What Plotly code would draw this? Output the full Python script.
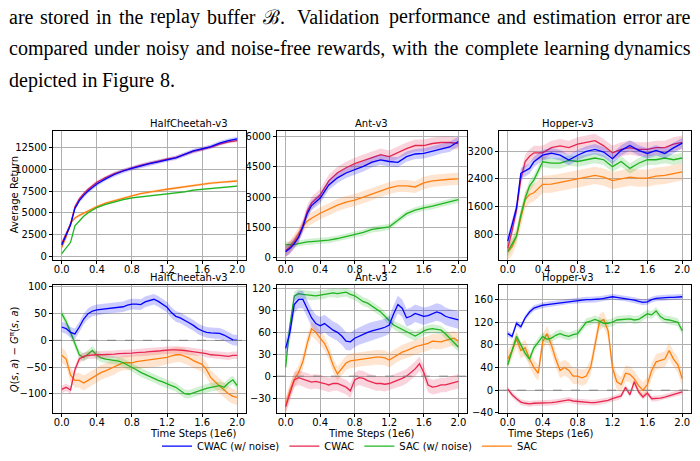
import plotly.graph_objects as go
from plotly.subplots import make_subplots

# ---- paper text above the figure (first two lines are justified) ----
text_lines = [
    "are stored in the replay buffer ℬ.  Validation performance and estimation error are",
    "compared under noisy and noise-free rewards, with the complete learning dynamics",
    "depicted in Figure 8.",
]
text_justified = [True, True, False]

methods = ["CWAC (w/ noise)", "CWAC", "SAC (w/ noise)", "SAC"]
envs = ["HalfCheetah-v3", "Ant-v3", "Hopper-v3"]

# ---- top row: average return (time steps in 1e6) ----
t_top = [0, 0.05, 0.1, 0.15, 0.2, 0.25, 0.3, 0.4, 0.5, 0.6, 0.7, 0.8,
         0.9, 1.0, 1.1, 1.2, 1.3, 1.4, 1.5, 1.6, 1.7, 1.8, 1.9, 2.0]

hc_ret_cwac_noise = [1300, 2500, 3600, 5500, 6400, 7000, 7500, 8300, 8900, 9400, 9800, 10100,
                     10400, 10650, 10850, 11100, 11300, 11700, 12100, 12350, 12600, 13000, 13300, 13500]
hc_ret_cwac = [1500, 2700, 3700, 5700, 6600, 7200, 7700, 8500, 9050, 9500, 9850, 10150,
               10450, 10700, 10900, 11150, 11350, 11700, 12050, 12300, 12550, 12900, 13150, 13300]
hc_ret_sac_noise = [300, 900, 1600, 3500, 4100, 4600, 5000, 5600, 5950, 6250, 6500, 6700,
                    6850, 6950, 7050, 7150, 7250, 7400, 7600, 7700, 7750, 7850, 7950, 8050]
hc_ret_sac = [1000, 2200, 3800, 4400, 4700, 4950, 5200, 5700, 6100, 6400, 6700, 6950,
              7200, 7400, 7550, 7700, 7850, 8000, 8150, 8300, 8400, 8500, 8600, 8650]
hc_ret_std = [250, 200, 100, 150]

ant_ret_cwac_noise = [300, 450, 700, 1000, 1530, 2180, 2580, 2950, 3600, 3950, 4190, 4350,
                      4520, 4730, 4840, 4760, 4720, 5000, 5130, 5160, 5270, 5400, 5480, 5750]
ant_ret_cwac = [350, 500, 750, 1050, 1600, 2300, 2700, 3100, 3800, 4200, 4450, 4650,
                4800, 4950, 5100, 5000, 5200, 5400, 5550, 5550, 5650, 5700, 5700, 5650]
ant_ret_sac_noise = [650, 650, 650, 700, 750, 780, 800, 840, 870, 950, 1050, 1160,
                     1250, 1400, 1450, 1530, 1850, 2180, 2350, 2470, 2550, 2660, 2750, 2870]
ant_ret_sac = [350, 550, 850, 1200, 1550, 1800, 1950, 2200, 2400, 2600, 2750, 2850,
               3000, 3150, 3300, 3450, 3550, 3550, 3500, 3700, 3800, 3850, 3880, 3900]
ant_ret_std = [250, 300, 150, 300]

hop_ret_cwac_noise = [610, 1100, 1560, 2560, 2620, 2700, 2890, 3080, 3140, 3080, 2940, 3080,
                      3190, 3250, 3170, 2980, 3220, 3360, 3220, 3130, 3220, 3130, 3290, 3430]
hop_ret_cwac = [400, 900, 1500, 2400, 2900, 3050, 3150, 3150, 3300, 3350, 3300, 3400,
                3450, 3500, 3350, 3150, 3250, 3300, 3250, 3250, 3300, 3300, 3400, 3450]
hop_ret_sac_noise = [310, 520, 750, 1370, 1840, 2200, 2370, 2890, 2850, 2850, 2930, 2900,
                     2950, 3000, 2950, 2750, 2900, 2700, 2850, 2950, 2950, 3000, 2950, 3000]
hop_ret_sac = [300, 450, 750, 1250, 1800, 1950, 2000, 2240, 2250, 2300, 2350, 2400,
               2450, 2500, 2450, 2350, 2400, 2450, 2420, 2420, 2480, 2500, 2550, 2600]
hop_ret_std = [150, 200, 150, 250]

# ---- bottom row: estimation error Q - G ----
t_bot = [0, 0.05, 0.1, 0.15, 0.2, 0.25, 0.3, 0.35, 0.4, 0.45, 0.5, 0.55, 0.6, 0.65,
         0.7, 0.75, 0.8, 0.85, 0.9, 0.95, 1.0, 1.05, 1.1, 1.15, 1.2, 1.25, 1.3, 1.35,
         1.4, 1.45, 1.5, 1.55, 1.6, 1.65, 1.7, 1.75, 1.8, 1.85, 1.9, 1.95, 2.0]

hc_err_cwac_noise = [25, 22, 15, 12, 25, 40, 50, 55, 57, 58, 60, 61, 62, 62, 63, 66, 68, 68,
                     67, 72, 75, 77, 73, 68, 62, 52, 45, 42, 38, 33, 28, 22, 18, 15, 14, 13,
                     13, 10, 5, 1, 0]
hc_err_cwac = [-92, -88, -93, -55, -35, -30, -28, -27, -27, -27, -27, -26, -26, -25, -25,
               -24, -24, -23, -23, -22, -21, -21, -20, -19, -18, -18, -18, -18, -19, -20,
               -21, -22, -23, -25, -27, -27, -28, -29, -30, -28, -28]
hc_err_sac_noise = [50, 35, 15, -5, -27, -32, -25, -19, -28, -33, -35, -36, -37, -39, -42,
                    -46, -50, -55, -60, -64, -68, -71, -75, -78, -82, -85, -88, -94, -100,
                    -101, -98, -96, -93, -90, -88, -86, -85, -88, -80, -74, -85]
hc_err_sac = [-28, -35, -65, -75, -75, -80, -75, -70, -65, -60, -57, -53, -50, -45, -42,
              -42, -42, -40, -39, -38, -37, -36, -35, -34, -32, -29, -27, -27, -30, -33,
              -38, -41, -45, -55, -70, -78, -85, -92, -100, -105, -107]
hc_err_std = [10, 7, 8, 14]

ant_err_cwac_noise = [38, 60, 98, 105, 105, 93, 80, 72, 69, 72, 67, 63, 60, 55, 48, 47, 52,
                      55, 58, 60, 62, 63, 65, 67, 70, 85, 98, 93, 80, 82, 86, 84, 82, 83, 86,
                      88, 86, 82, 80, 78, 77]
ant_err_cwac = [-42, -25, -5, -2, -4, -7, -8, -7, -8, -10, -12, -10, -10, -13, -15, -20, -5,
                -2, -3, -6, -8, -10, -10, -11, -10, -8, -5, -3, 0, 5, 10, 17, 5, -12, -15,
                -14, -12, -12, -10, -8, -7]
ant_err_sac_noise = [12, 70, 110, 113, 112, 111, 110, 110, 111, 112, 114, 114, 113, 114, 115,
                     112, 110, 106, 102, 100, 96, 92, 88, 82, 76, 70, 67, 64, 60, 57, 55, 58,
                     62, 64, 65, 64, 63, 58, 52, 45, 40]
ant_err_sac = [-40, -20, -5, 5, 20, 45, 65, 60, 52, 45, 32, 15, 3, 10, 18, 21, 22, 23, 24,
               25, 25, 26, 26, 25, 22, 26, 30, 33, 35, 38, 40, 42, 43, 45, 48, 47, 47, 49,
               50, 52, 48]
ant_err_std = [12, 10, 6, 10]

hop_err_cwac_noise = [100, 95, 118, 112, 128, 138, 145, 148, 150, 151, 152, 154, 155, 156,
                      157, 158, 158, 159, 160, 160, 160, 161, 162, 164, 165, 164, 163, 162,
                      160, 159, 157, 155, 156, 160, 162, 163, 163, 164, 164, 165, 165]
hop_err_cwac = [2, -8, -15, -21, -23, -24, -23, -23, -22, -22, -22, -21, -20, -18, -17, -19,
                -20, -21, -22, -22, -22, -21, -20, -18, -15, -13, -10, 5, -8, 15, -3, -12,
                -5, -15, -15, -14, -12, -10, -8, -5, -3]
hop_err_sac_noise = [45, 70, 95, 80, 65, 55, 75, 85, 95, 90, 92, 97, 100, 97, 95, 98, 100,
                     110, 120, 122, 125, 122, 118, 118, 120, 124, 125, 125, 126, 124, 125,
                     130, 135, 133, 140, 130, 125, 124, 122, 120, 105]
hop_err_sac = [55, 70, 90, 70, 75, 55, 40, 30, 85, 100, 80, 55, 35, 40, 35, 25, 25, 22, 25,
               40, 80, 120, 125, 105, 40, 15, 10, 30, 28, 20, 8, 0, 10, 35, 50, 52, 55, 70,
               55, 45, 20]
hop_err_std = [5, 5, 7, 14]

colors = ["#0000ff", "#e8264f", "#1fb51f", "#ff7f0e"]
bands = ["rgba(0,0,255,0.2)", "rgba(232,38,79,0.2)", "rgba(31,181,31,0.2)", "rgba(255,127,14,0.2)"]

panels = [
    (1, 1, t_top, [hc_ret_cwac_noise, hc_ret_cwac, hc_ret_sac_noise, hc_ret_sac], hc_ret_std),
    (1, 2, t_top, [ant_ret_cwac_noise, ant_ret_cwac, ant_ret_sac_noise, ant_ret_sac], ant_ret_std),
    (1, 3, t_top, [hop_ret_cwac_noise, hop_ret_cwac, hop_ret_sac_noise, hop_ret_sac], hop_ret_std),
    (2, 1, t_bot, [hc_err_cwac_noise, hc_err_cwac, hc_err_sac_noise, hc_err_sac], hc_err_std),
    (2, 2, t_bot, [ant_err_cwac_noise, ant_err_cwac, ant_err_sac_noise, ant_err_sac], ant_err_std),
    (2, 3, t_bot, [hop_err_cwac_noise, hop_err_cwac, hop_err_sac_noise, hop_err_sac], hop_err_std),
]

fig = make_subplots(rows=2, cols=3)

for row, col, t, series, stds in panels:
    # draw SAC first so CWAC lines sit on top, like the reference
    for k in [3, 2, 1, 0]:
        y = series[k]
        up = [v + stds[k] for v in y]
        lo = [v - stds[k] for v in y]
        fig.add_trace(go.Scatter(x=t + t[::-1], y=up + lo[::-1], fill="toself",
                                 fillcolor=bands[k], line=dict(width=0),
                                 hoverinfo="skip", showlegend=False), row=row, col=col)
        fig.add_trace(go.Scatter(x=t, y=y, mode="lines", name=methods[k],
                                 line=dict(color=colors[k], width=1.3),
                                 showlegend=(row == 2 and col == 1), legendrank=k),
                      row=row, col=col)
    if row == 2:
        fig.add_hline(y=0, line=dict(color="#808080", width=1, dash="dash"), row=row, col=col)

x_domains = [[0.0757, 0.3514], [0.3957, 0.6671], [0.7129, 0.9871]]
y_domains = {1: [0.4295, 0.7137], 2: [0.0933, 0.3753]}
y_ranges = {(1, 1): [-450, 14450], (1, 2): [-120, 6290], (1, 3): [60, 3790],
            (2, 1): [-137, 104], (2, 2): [-51, 125], (2, 3): [-41, 186]}
y_ticks = {(1, 1): [0, 2500, 5000, 7500, 10000, 12500], (1, 2): [0, 1500, 3000, 4500, 6000],
           (1, 3): [800, 1600, 2400, 3200], (2, 1): [-100, -50, 0, 50, 100],
           (2, 2): [-30, 0, 30, 60, 90, 120], (2, 3): [-40, 0, 40, 80, 120, 160]}

tick_font = dict(family="DejaVu Sans", size=10, color="black")
for row in [1, 2]:
    for col in [1, 2, 3]:
        fig.update_xaxes(domain=x_domains[col - 1], range=[-0.1, 2.1], automargin=False,
                         tickvals=[0, 0.4, 0.8, 1.2, 1.6, 2.0],
                         ticktext=["0.0", "0.4", "0.8", "1.2", "1.6", "2.0"],
                         showgrid=True, gridcolor="#b0b0b0", gridwidth=1,
                         showline=True, linecolor="black", linewidth=1, mirror=True,
                         ticks="outside", ticklen=3, tickcolor="black",
                         ticklabelstandoff=-3,
                         tickfont=tick_font, zeroline=False, row=row, col=col)
        vals = y_ticks[(row, col)]
        fig.update_yaxes(domain=y_domains[row], range=y_ranges[(row, col)], automargin=False,
                         tickvals=vals, ticktext=[str(v).replace("-", "−") for v in vals],
                         showgrid=True, gridcolor="#b0b0b0", gridwidth=1,
                         showline=True, linecolor="black", linewidth=1, mirror=True,
                         ticks="outside", ticklen=3, tickcolor="black",
                         tickfont=tick_font, zeroline=False, row=row, col=col)

label_font = dict(family="DejaVu Sans", size=10, color="black")
annotations = []
for row in [1, 2]:
    for col in [1, 2, 3]:
        d = x_domains[col - 1]
        annotations.append(dict(text=envs[col - 1], xref="paper", yref="paper",
                                x=(d[0] + d[1]) / 2, y=y_domains[row][1], yanchor="middle",
                                yshift=7, borderpad=0, showarrow=False, font=label_font))
        if row == 2:
            annotations.append(dict(text="Time Steps (1e6)", xref="paper", yref="paper",
                                    x=(d[0] + d[1]) / 2, y=1 - 438 / 461, yanchor="middle",
                                    borderpad=0, showarrow=False, font=label_font))

annotations.append(dict(text="Average Return", xref="paper", yref="paper", textangle=-90,
                        x=14 / 700, y=sum(y_domains[1]) / 2, xanchor="center", yanchor="middle",
                        showarrow=False, font=label_font))
annotations.append(dict(text="<i>Q</i>(<i>s</i>, <i>a</i>) − <i>G</i><sup>π</sup>(<i>s</i>, <i>a</i>)",
                        xref="paper", yref="paper", textangle=-90,
                        x=14 / 700, y=sum(y_domains[2]) / 2, xanchor="center", yanchor="middle",
                        showarrow=False, font=label_font))

# justified body text: approximate Times advance widths (per 1000 em) to spread the words
times_w = {"a": 444, "b": 500, "c": 444, "d": 500, "e": 444, "f": 333, "g": 500, "h": 500,
           "i": 278, "j": 278, "k": 500, "l": 278, "m": 778, "n": 500, "o": 500, "p": 500,
           "q": 500, "r": 333, "s": 389, "t": 278, "u": 500, "v": 500, "w": 722, "x": 500,
           "y": 500, "z": 444, ".": 250, ",": 250, "-": 333, "V": 722, "F": 556, "8": 500,
           "ℬ": 800}
serif_size = 20
serif = dict(family="Liberation Serif", size=serif_size, color="black")
left_px, right_px = 8, 692
line_y = [17, 49, 81]
for txt, just, py in zip(text_lines, text_justified, line_y):
    words = txt.split(" ")
    widths = [sum(times_w.get(c, 500) for c in w) * serif_size / 1000 for w in words]
    if just:
        gap = (right_px - left_px - sum(widths)) / (len(words) - 1)
    else:
        gap = 250 * serif_size / 1000
    x = left_px
    for w, wd in zip(words, widths):
        if w:
            annotations.append(dict(text=w, xref="paper", yref="paper", x=x / 700,
                                    xanchor="left", y=1 - py / 461, yanchor="middle",
                                    showarrow=False, borderpad=0, font=serif))
        x += wd + gap
    if just:
        # pin the last word exactly to the right margin
        annotations[-1].update(x=right_px / 700, xanchor="right")

fig.update_layout(
    width=700, height=461,
    margin=dict(l=0, r=0, t=0, b=0),
    paper_bgcolor="white", plot_bgcolor="white",
    annotations=annotations,
    showlegend=True,
    legend=dict(orientation="h", x=0.5, xanchor="center", y=10 / 461, yanchor="middle",
                font=dict(family="DejaVu Sans", size=10, color="black"),
                traceorder="normal", bgcolor="rgba(0,0,0,0)"),
)

# drop the browser's default page margin so the figure sits at the window corner
fig.write_html("out.html", config={"displayModeBar": False},
               post_script="document.body.style.margin='0px';")
